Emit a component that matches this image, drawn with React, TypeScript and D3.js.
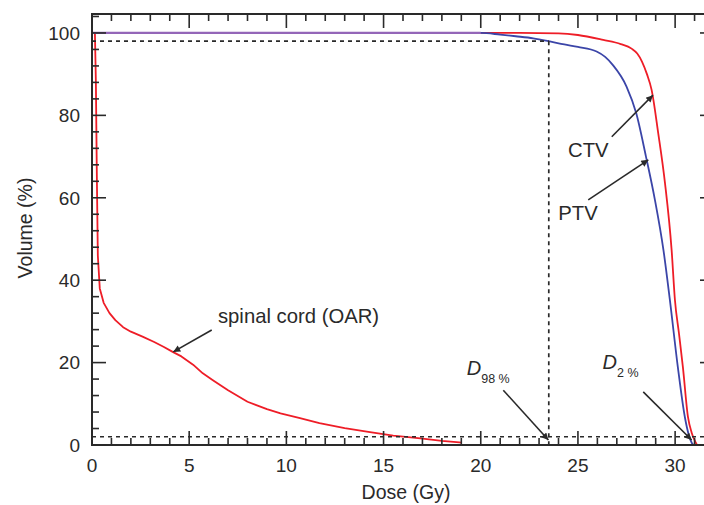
import React from "react";
import * as d3 from "d3";

// ---- data (dose in Gy, volume in %) ----
const ctvDose = [0, 22, 24, 25, 26.3, 27.2, 27.76, 28.05, 28.3, 28.55, 28.79, 29.13, 29.48, 29.82, 29.99, 30.2, 30.4, 30.66, 30.85, 31.07, 31.12];
const ctvVolume = [100, 100, 99.9, 99.5, 98.3, 97.3, 96.2, 95.0, 93.0, 90.0, 86.2, 75.7, 63.5, 47.3, 35.2, 27, 18.9, 6.8, 3, 0.5, 0];

const ptvDose = [0, 20, 21, 21.8, 22.7, 23.5, 24.3, 25.0, 25.96, 26.4, 26.8, 27.5, 28.0, 28.5, 28.96, 29.4, 29.73, 30.14, 30.5, 30.7, 30.86, 30.95];
const ptvVolume = [100, 100, 99.6, 99.2, 98.7, 98, 97.2, 96.6, 95.5, 94.2, 92.2, 87.0, 80.5, 70.0, 59.5, 47.3, 35.2, 18.9, 6.8, 2.5, 0.5, 0];

const oarDose = [0, 0.15, 0.2, 0.25, 0.3, 0.4, 0.6, 0.9, 1.2, 1.6, 2.0, 2.6, 3.2, 3.7, 4.15, 4.6, 5.2, 5.7, 6.2, 7.0, 8.0, 9.0, 9.7, 10.7, 11.7, 13.0, 14.3, 15.5, 16.9, 18.0, 18.9, 19.0];
const oarVolume = [100, 100, 88, 65, 46, 38, 34.5, 32, 30.3, 28.6, 27.5, 26.3, 25, 23.8, 22.6, 21.5, 19.5, 17.4, 15.8, 13.3, 10.5, 8.7, 7.7, 6.5, 5.3, 4.1, 3.1, 2.3, 1.6, 1.0, 0.65, 0.6];

const xMajorTicks = [0, 5, 10, 15, 20, 25, 30];
const yMajorTicks = [0, 20, 40, 60, 80, 100];
const d98 = 23.5; // Gy
const refLevels = [98, 2]; // %

const W = 704;
const H = 505;
const FONT = "'Liberation Sans', Arial, Helvetica, sans-serif";
const INK = "#2a2a2a";
const RED = "#ee1d27";
const BLUE = "#3b45a8";
const PURPLE = "#9466b8";

export default function App() {
  const x = d3.scaleLinear().domain([0, 32]).range([92, 714]);
  const y = d3.scaleLinear().domain([0, 104.6]).range([445, 14]);
  const line = d3
    .line<[number, number]>()
    .x((d) => x(d[0]))
    .y((d) => y(d[1]))
    .curve(d3.curveMonotoneX);
  const lineL = d3
    .line<[number, number]>()
    .x((d) => x(d[0]))
    .y((d) => y(d[1]));

  const zip = (a: number[], b: number[]) => a.map((v, i) => [v, b[i]] as [number, number]);
  const ctv = zip(ctvDose, ctvVolume);
  const ptv = zip(ptvDose, ptvVolume);
  const oar = zip(oarDose, oarVolume);

  // overlap segment (both at 100 %)
  const lastPtv100 = d3.max(ptv.filter((d) => d[1] >= 100), (d) => d[0]) as number;
  const overlap: [number, number][] = [
    [0, 100],
    [lastPtv100, 100],
  ];

  const xMinor = d3.range(0, 33, 1);
  const yMinor = d3.range(0, 105, 4);
  const [x0, x1] = x.range();
  const [y0, y1] = y.range();
  const majL = 14;
  const minL = 7;

  const annFont = 20.3;
  const arrows: { from: [number, number]; to: [number, number] }[] = [
    { from: [26.74, 74.8], to: [28.86, 84.9] },
    { from: [25.53, 59.5], to: [28.62, 69.2] },
    { from: [6.16, 27.9], to: [4.18, 22.6] },
    { from: [21.16, 13.3], to: [23.48, 1.2] },
    { from: [28.36, 12.9], to: [30.85, 1.2] },
  ];

  return (
    <svg
      width={W}
      height={H}
      style={{ position: "absolute", left: 0, top: 0, background: "#fff" }}
      fontFamily={FONT}
    >
      <defs>
        <marker id="ah" viewBox="0 0 10 10" refX="10" refY="5" markerWidth="9" markerHeight="7" markerUnits="userSpaceOnUse" orient="auto">
          <path d="M0,0 L10,5 L0,10 z" fill={INK} />
        </marker>
      </defs>

      {/* curves */}
      <path d={lineL(oar) ?? ""} fill="none" stroke={RED} strokeWidth={1.8} strokeLinejoin="round" />
      <path d={line(ctv) ?? ""} fill="none" stroke={RED} strokeWidth={1.8} />
      <path d={line(ptv) ?? ""} fill="none" stroke={BLUE} strokeWidth={1.8} />
      <path d={lineL(overlap) ?? ""} fill="none" stroke={PURPLE} strokeWidth={2.2} />

      {/* reference dotted lines */}
      <line x1={x0} x2={x(d98)} y1={y(refLevels[0])} y2={y(refLevels[0])} stroke={INK} strokeWidth={1.7} strokeDasharray="4,4" />
      <line x1={x(d98)} x2={x(d98)} y1={y(refLevels[0])} y2={y0} stroke={INK} strokeWidth={1.7} strokeDasharray="4,4" />
      <line x1={x0} x2={x1} y1={y(refLevels[1])} y2={y(refLevels[1])} stroke={INK} strokeWidth={1.7} strokeDasharray="4,4" />

      {/* frame */}
      <rect x={x0} y={y1} width={x1 - x0} height={y0 - y1} fill="none" stroke={INK} strokeWidth={2} />

      {/* x ticks (bottom + top) */}
      {xMinor.map((t) => {
        const L = xMajorTicks.includes(t) ? majL : minL;
        return (
          <g key={"xt" + t}>
            <line x1={x(t)} x2={x(t)} y1={y0} y2={y0 - L} stroke={INK} strokeWidth={1.6} />
            <line x1={x(t)} x2={x(t)} y1={y1} y2={y1 + L} stroke={INK} strokeWidth={1.6} />
          </g>
        );
      })}
      {/* y ticks (left + right) */}
      {yMinor.map((t) => {
        const L = yMajorTicks.includes(t) ? majL : minL;
        return (
          <g key={"yt" + t}>
            <line x1={x0} x2={x0 + L} y1={y(t)} y2={y(t)} stroke={INK} strokeWidth={1.6} />
            <line x1={x1} x2={x1 - L} y1={y(t)} y2={y(t)} stroke={INK} strokeWidth={1.6} />
          </g>
        );
      })}

      {/* tick labels */}
      {xMajorTicks.map((t) => (
        <text key={"xl" + t} x={x(t)} y={471.5} textAnchor="middle" fontSize={19} fill={INK}>
          {t}
        </text>
      ))}
      {yMajorTicks.map((t) => (
        <text key={"yl" + t} x={80} y={y(t)} dy="0.36em" textAnchor="end" fontSize={19} fill={INK}>
          {t}
        </text>
      ))}

      {/* axis titles */}
      <text x={406} y={499} textAnchor="middle" fontSize={19.5} fill={INK}>
        Dose (Gy)
      </text>
      <text transform={`translate(32,228) rotate(-90)`} textAnchor="middle" fontSize={19.5} fill={INK}>
        Volume (%)
      </text>

      {/* annotations */}
      {arrows.map((a, i) => (
        <line
          key={"ar" + i}
          x1={x(a.from[0])}
          y1={y(a.from[1])}
          x2={x(a.to[0])}
          y2={y(a.to[1])}
          stroke={INK}
          strokeWidth={1.6}
          markerEnd="url(#ah)"
        />
      ))}
      <text x={x(24.49)} y={y(69.9)} fontSize={annFont} fill={INK}>
        CTV
      </text>
      <text x={x(23.99)} y={y(54.6)} fontSize={annFont} fill={INK}>
        PTV
      </text>
      <text x={x(6.48)} y={y(29.6)} fontSize={annFont} fill={INK}>
        spinal cord (OAR)
      </text>
      <text x={x(19.28)} y={y(17.0)} fontSize={20} fill={INK}>
        <tspan fontStyle="italic">D</tspan>
        <tspan fontSize={12.5} dy={8}>98 %</tspan>
      </text>
      <text x={x(26.27)} y={y(18.4)} fontSize={20} fill={INK}>
        <tspan fontStyle="italic">D</tspan>
        <tspan fontSize={12.5} dy={8}>2 %</tspan>
      </text>
    </svg>
  );
}
